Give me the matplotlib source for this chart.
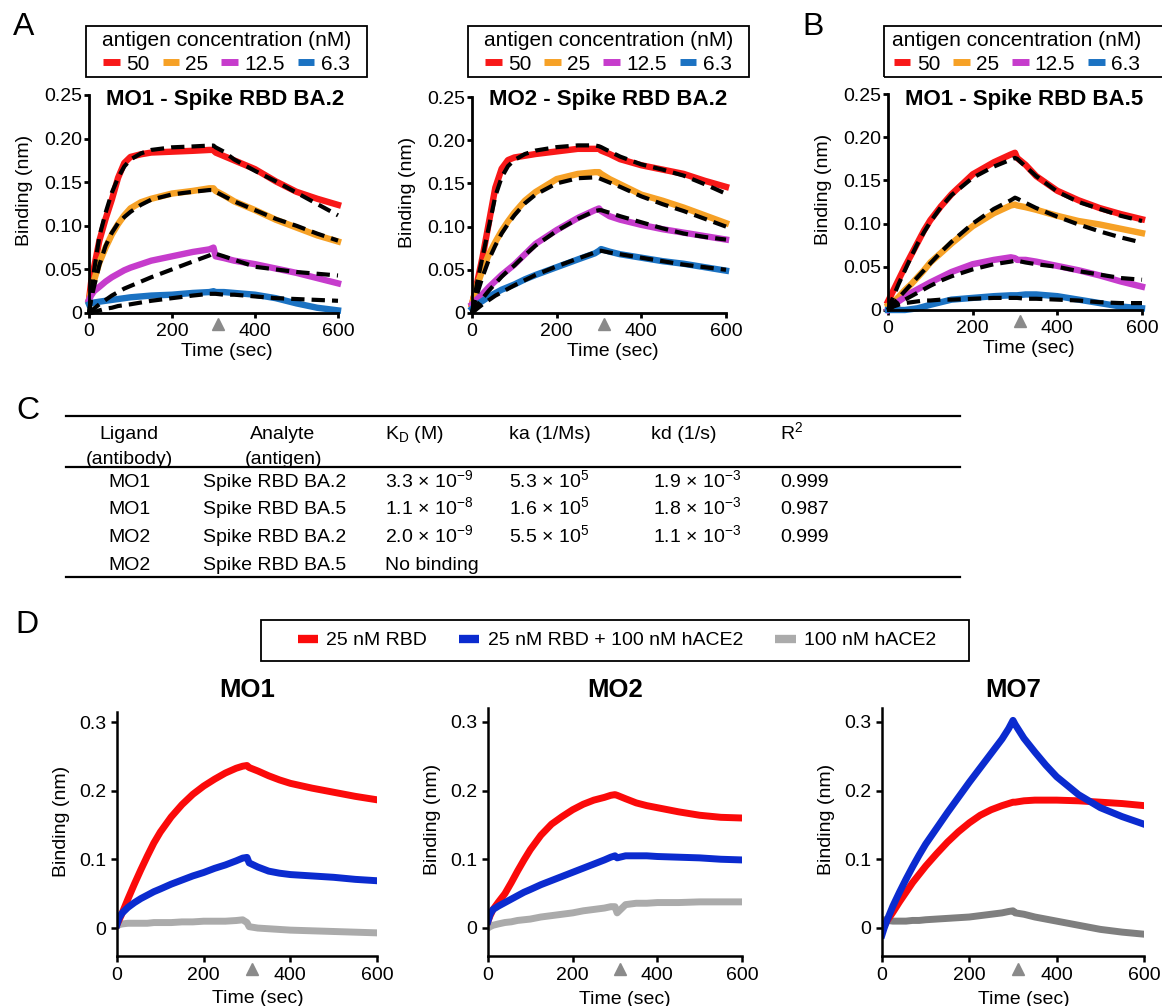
import matplotlib
matplotlib.use('Agg')
import matplotlib.pyplot as plt
from matplotlib.lines import Line2D
from matplotlib.patches import Rectangle
from matplotlib.transforms import blended_transform_factory, ScaledTranslation

plt.rcParams['font.family'] = ['Liberation Sans', 'DejaVu Sans']
plt.rcParams['mathtext.default'] = 'regular'

# ---------------- data ----------------
conc_labels = ['50', '25', '12.5', '6.3']
conc_colors = ['#f81818', '#f6a126', '#c63ccc', '#1b72c2']

t_A = [0, 5, 12, 25, 40, 55, 70, 85, 100, 125, 150, 200, 250, 290, 300, 305,
       325, 350, 400, 450, 500, 550, 600]

# Panel A left: MO1 - Spike RBD BA.2
a1_obs_50 = [0.015, 0.035, 0.052, 0.083, 0.108, 0.13, 0.155, 0.172, 0.179, 0.182, 0.184, 0.185, 0.186, 0.187, 0.187, 0.184, 0.18, 0.175, 0.165, 0.151, 0.139, 0.131, 0.124]
a1_fit_50 = [0.0, 0.02, 0.048, 0.088, 0.115, 0.138, 0.155, 0.168, 0.176, 0.183, 0.187, 0.19, 0.191, 0.192, 0.192, 0.19, 0.185, 0.176, 0.163, 0.151, 0.138, 0.125, 0.112]
a1_obs_25 = [0.015, 0.025, 0.037, 0.058, 0.075, 0.09, 0.102, 0.112, 0.12, 0.127, 0.131, 0.137, 0.14, 0.143, 0.143, 0.14, 0.135, 0.128, 0.118, 0.107, 0.098, 0.089, 0.082]
a1_fit_25 = [0.0, 0.015, 0.03, 0.055, 0.077, 0.092, 0.103, 0.11, 0.116, 0.124, 0.13, 0.136, 0.139, 0.141, 0.141, 0.139, 0.134, 0.128, 0.118, 0.108, 0.1, 0.091, 0.083]
a1_obs_12 = [0.015, 0.02, 0.025, 0.03, 0.036, 0.041, 0.045, 0.049, 0.052, 0.056, 0.06, 0.065, 0.07, 0.073, 0.075, 0.065, 0.063, 0.06, 0.056, 0.051, 0.046, 0.04, 0.034]
a1_fit_12 = [0.0, 0.002, 0.005, 0.01, 0.015, 0.02, 0.024, 0.028, 0.031, 0.036, 0.041, 0.05, 0.059, 0.066, 0.069, 0.068, 0.065, 0.061, 0.053, 0.05, 0.047, 0.045, 0.043]
a1_obs_6 = [0.01, 0.011, 0.012, 0.013, 0.014, 0.015, 0.016, 0.017, 0.018, 0.019, 0.02, 0.021, 0.023, 0.024, 0.025, 0.024, 0.024, 0.023, 0.021, 0.017, 0.011, 0.006, 0.003]
a1_fit_6 = [0.0, 0.0, 0.001, 0.003, 0.005, 0.006, 0.008, 0.009, 0.01, 0.012, 0.014, 0.017, 0.02, 0.022, 0.022, 0.022, 0.021, 0.021, 0.019, 0.017, 0.016, 0.015, 0.014]

# Panel A right: MO2 - Spike RBD BA.2
a2_obs_50 = [0.01, 0.02, 0.035, 0.065, 0.105, 0.145, 0.167, 0.177, 0.18, 0.182, 0.184, 0.187, 0.19, 0.19, 0.19, 0.188, 0.184, 0.178, 0.171, 0.166, 0.161, 0.153, 0.146]
a2_fit_50 = [0.0, 0.015, 0.035, 0.065, 0.1, 0.135, 0.157, 0.17, 0.177, 0.184, 0.188, 0.192, 0.194, 0.194, 0.193, 0.192, 0.187, 0.181, 0.172, 0.166, 0.159, 0.149, 0.138]
a2_obs_25 = [0.01, 0.02, 0.032, 0.05, 0.068, 0.082, 0.095, 0.106, 0.116, 0.13, 0.14, 0.155, 0.161, 0.163, 0.163, 0.161, 0.155, 0.149, 0.137, 0.13, 0.122, 0.113, 0.104]
a2_fit_25 = [0.0, 0.01, 0.022, 0.042, 0.062, 0.078, 0.092, 0.103, 0.113, 0.127, 0.137, 0.15, 0.156, 0.157, 0.156, 0.155, 0.151, 0.146, 0.135, 0.126, 0.118, 0.109, 0.1]
a2_obs_12 = [0.01, 0.012, 0.016, 0.022, 0.03, 0.037, 0.044, 0.05, 0.056, 0.068, 0.08, 0.096, 0.11, 0.119, 0.121, 0.118, 0.112, 0.108, 0.102, 0.097, 0.093, 0.089, 0.085]
a2_fit_12 = [0.0, 0.004, 0.009, 0.017, 0.026, 0.034, 0.042, 0.049, 0.055, 0.067, 0.078, 0.095, 0.109, 0.118, 0.119, 0.119, 0.116, 0.112, 0.105, 0.098, 0.092, 0.088, 0.085]
a2_obs_6 = [0.005, 0.007, 0.01, 0.014, 0.019, 0.023, 0.027, 0.03, 0.033, 0.039, 0.044, 0.053, 0.062, 0.069, 0.072, 0.074, 0.071, 0.068, 0.064, 0.06, 0.057, 0.053, 0.049]
a2_fit_6 = [0.0, 0.002, 0.005, 0.01, 0.015, 0.02, 0.024, 0.028, 0.032, 0.038, 0.044, 0.054, 0.063, 0.07, 0.072, 0.072, 0.07, 0.068, 0.064, 0.06, 0.056, 0.053, 0.05]

# Panel B: MO1 - Spike RBD BA.5
b_obs_50 = [0.01, 0.015, 0.022, 0.035, 0.05, 0.064, 0.078, 0.092, 0.104, 0.12, 0.134, 0.157, 0.171, 0.18, 0.182, 0.176, 0.168, 0.155, 0.138, 0.127, 0.118, 0.111, 0.105]
b_fit_50 = [0.0, 0.006, 0.015, 0.03, 0.046, 0.062, 0.077, 0.09, 0.102, 0.119, 0.133, 0.153, 0.166, 0.174, 0.176, 0.175, 0.166, 0.155, 0.137, 0.125, 0.117, 0.109, 0.103]
b_obs_25 = [0.005, 0.006, 0.009, 0.015, 0.023, 0.03, 0.038, 0.046, 0.055, 0.066, 0.077, 0.097, 0.112, 0.121, 0.122, 0.121, 0.119, 0.116, 0.109, 0.103, 0.099, 0.094, 0.089]
b_fit_25 = [0.0, 0.003, 0.007, 0.014, 0.022, 0.03, 0.038, 0.046, 0.054, 0.067, 0.079, 0.1, 0.117, 0.127, 0.13, 0.129, 0.124, 0.118, 0.108, 0.099, 0.091, 0.084, 0.078]
b_obs_12 = [0.0, 0.002, 0.005, 0.01, 0.015, 0.02, 0.024, 0.028, 0.032, 0.038, 0.044, 0.053, 0.058, 0.061, 0.06, 0.058, 0.058, 0.056, 0.051, 0.046, 0.04, 0.033, 0.027]
b_fit_12 = [0.0, 0.002, 0.004, 0.008, 0.012, 0.016, 0.02, 0.024, 0.028, 0.034, 0.039, 0.047, 0.053, 0.056, 0.057, 0.057, 0.055, 0.053, 0.05, 0.045, 0.041, 0.037, 0.035]
b_obs_6 = [0.0, 0.0, 0.0, 0.0, 0.0, 0.001, 0.002, 0.004, 0.006, 0.009, 0.012, 0.014, 0.016, 0.017, 0.017, 0.017, 0.018, 0.018, 0.016, 0.012, 0.008, 0.004, 0.002]
b_fit_6 = [0.0, 0.002, 0.004, 0.006, 0.008, 0.009, 0.01, 0.011, 0.011, 0.012, 0.012, 0.013, 0.014, 0.014, 0.014, 0.014, 0.013, 0.013, 0.012, 0.011, 0.009, 0.008, 0.008]

# Panel D
comp_labels = ['25 nM RBD', '25 nM RBD + 100 nM hACE2', '100 nM hACE2']
t_D = [0, 5, 12, 25, 40, 55, 70, 85, 100, 125, 150, 175, 200, 225, 250, 275,
       290, 300, 305, 325, 350, 375, 400, 450, 500, 550, 600]
d_mo1_rbd = [0.005, 0.012, 0.022, 0.042, 0.064, 0.085, 0.105, 0.124, 0.14, 0.162, 0.18, 0.195, 0.207, 0.217, 0.226, 0.233, 0.236, 0.237, 0.234, 0.229, 0.222, 0.216, 0.211, 0.204, 0.198, 0.192, 0.187]
d_mo1_mix = [0.005, 0.015, 0.022, 0.03, 0.037, 0.043, 0.048, 0.053, 0.057, 0.064, 0.07, 0.076, 0.081, 0.087, 0.092, 0.098, 0.102, 0.103, 0.095, 0.089, 0.083, 0.08, 0.078, 0.076, 0.074, 0.071, 0.069]
d_mo1_ace = [0.003, 0.005, 0.006, 0.007, 0.007, 0.007, 0.007, 0.008, 0.008, 0.008, 0.009, 0.009, 0.01, 0.01, 0.01, 0.011, 0.012, 0.008, 0.002, 0.0, -0.001, -0.002, -0.003, -0.004, -0.005, -0.006, -0.007]
d_mo2_rbd = [0.01, 0.018, 0.027, 0.038, 0.05, 0.066, 0.083, 0.099, 0.114, 0.135, 0.151, 0.162, 0.172, 0.18, 0.186, 0.19, 0.193, 0.194, 0.193, 0.188, 0.182, 0.178, 0.175, 0.169, 0.164, 0.161, 0.16]
d_mo2_mix = [0.01, 0.02, 0.027, 0.032, 0.037, 0.042, 0.047, 0.052, 0.056, 0.063, 0.069, 0.075, 0.081, 0.087, 0.093, 0.099, 0.103, 0.105, 0.102, 0.105, 0.105, 0.105, 0.104, 0.103, 0.102, 0.1, 0.099]
d_mo2_ace = [0.0, 0.002, 0.004, 0.006, 0.008, 0.009, 0.011, 0.012, 0.013, 0.016, 0.018, 0.02, 0.022, 0.025, 0.027, 0.029, 0.031, 0.031, 0.022, 0.034, 0.036, 0.036, 0.037, 0.037, 0.038, 0.038, 0.038]
d_mo7_rbd = [-0.005, 0.003, 0.011, 0.023, 0.038, 0.052, 0.066, 0.078, 0.09, 0.108, 0.125, 0.14, 0.153, 0.164, 0.172, 0.178, 0.181, 0.183, 0.183, 0.185, 0.186, 0.186, 0.186, 0.185, 0.183, 0.181, 0.178]
d_mo7_mix = [-0.01, 0.0, 0.012, 0.032, 0.052, 0.071, 0.089, 0.106, 0.122, 0.145, 0.168, 0.19, 0.212, 0.233, 0.254, 0.275, 0.29, 0.302, 0.296, 0.276, 0.256, 0.237, 0.22, 0.194, 0.175, 0.162, 0.151]
d_mo7_ace = [0.01, 0.012, 0.011, 0.01, 0.01, 0.01, 0.011, 0.011, 0.012, 0.013, 0.014, 0.015, 0.016, 0.018, 0.02, 0.022, 0.024, 0.025, 0.022, 0.02, 0.016, 0.013, 0.01, 0.004, -0.002, -0.006, -0.009]

x_ticks = [0, 200, 400, 600]
a_yticks = [0, 0.05, 0.10, 0.15, 0.20, 0.25]
a_yticklabels = ['0', '0.05', '0.10', '0.15', '0.20', '0.25']
d_yticks = [0, 0.1, 0.2, 0.3]
d_yticklabels = ['0', '0.1', '0.2', '0.3']
dissociation_mark = 312

# Table C
tbl_headers = ['Ligand\n(antibody)', 'Analyte\n(antigen)', 'K$_D$ (M)', 'ka (1/Ms)', 'kd (1/s)', 'R$^2$']
tbl_ligand = ['MO1', 'MO1', 'MO2', 'MO2']
tbl_analyte = ['Spike RBD BA.2', 'Spike RBD BA.5', 'Spike RBD BA.2', 'Spike RBD BA.5']
tbl_KD = ['3.3 × 10$^{-9}$', '1.1 × 10$^{-8}$', '2.0 × 10$^{-9}$', 'No binding']
tbl_ka = ['5.3 × 10$^{5}$', '1.6 × 10$^{5}$', '5.5 × 10$^{5}$', '']
tbl_kd = ['1.9 × 10$^{-3}$', '1.8 × 10$^{-3}$', '1.1 × 10$^{-3}$', '']
tbl_R2 = ['0.999', '0.987', '0.999', '']

# ---------------- figure ----------------
W, H = 1162, 1006
fig = plt.figure(figsize=(W / 100, H / 100), dpi=100)


def fx(px):
    return px / W


def fy(py):
    return 1 - py / H


def px_axes(x0, x1, ytop, ybot):
    return fig.add_axes([fx(x0), fy(ybot), (x1 - x0) / W, (ybot - ytop) / H])


def style(ax, lw, ticklen, xpad, ypad):
    for s in ['top', 'right']:
        ax.spines[s].set_visible(False)
    for s in ['left', 'bottom']:
        ax.spines[s].set_linewidth(lw)
    ax.tick_params(width=lw, length=ticklen, labelsize=14, direction='out')
    ax.tick_params(axis='x', pad=xpad)
    ax.tick_params(axis='y', pad=ypad)
    ax.set_xlim(0, 600)
    ax.set_xticks(x_ticks)


def mark(ax, off_pt):
    tr = blended_transform_factory(ax.transData, ax.transAxes) + \
        ScaledTranslation(0, -off_pt / 72, fig.dpi_scale_trans)
    ax.plot([dissociation_mark], [0], marker='^', color='#8a8a8a', ms=9,
            transform=tr, clip_on=False, ls='none')


# ----- Panels A & B -----
panelsAB = [
    ((89, 338, 95, 313), 'MO1 - Spike RBD BA.2',
     [a1_obs_50, a1_obs_25, a1_obs_12, a1_obs_6], [a1_fit_50, a1_fit_25, a1_fit_12, a1_fit_6]),
    ((472, 726, 97, 313), 'MO2 - Spike RBD BA.2',
     [a2_obs_50, a2_obs_25, a2_obs_12, a2_obs_6], [a2_fit_50, a2_fit_25, a2_fit_12, a2_fit_6]),
    ((888, 1142, 94, 310), 'MO1 - Spike RBD BA.5',
     [b_obs_50, b_obs_25, b_obs_12, b_obs_6], [b_fit_50, b_fit_25, b_fit_12, b_fit_6]),
]
legend_boxes = [(86, 367), (468, 749), (884, 1166)]

for (box, title, obs, fits), (lx0, lx1) in zip(panelsAB, legend_boxes):
    ax = px_axes(*box)
    style(ax, 2.0, 3.6, 3.5, 1.5)
    ax.set_ylim(0, 0.25)
    ax.set_yticks(a_yticks)
    ax.set_yticklabels(a_yticklabels)
    for ys, c in zip(obs, conc_colors):
        ax.plot(t_A, ys, color=c, lw=4.6, solid_joinstyle='round', clip_on=False, zorder=2)
    for ys in fits:
        ax.plot(t_A, ys, color='black', lw=3, dashes=(3.2, 1.7), clip_on=False, zorder=3)
    ax.text(0.067, fy(100), title, transform=blended_transform_factory(ax.transAxes, fig.transFigure),
            ha='left', va='center', fontsize=16, fontweight='bold')
    ax.set_ylabel('Binding (nm)', fontsize=14)
    ax.yaxis.set_label_coords(-56 / (box[1] - box[0]), 0.56)
    ax.set_xlabel('Time (sec)', fontsize=14)
    ax.xaxis.set_label_coords(0.555, -0.138)
    mark(ax, 8)
    # legend box
    fig.add_artist(Rectangle((fx(lx0), fy(77)), (lx1 - lx0) / W, 51 / H, transform=fig.transFigure,
                             fill=False, lw=1.3, ec='black'))
    cx = (lx0 + min(lx1, 1150)) / 2 if lx1 > W else (lx0 + lx1) / 2
    fig.text(fx(cx), fy(41), 'antigen concentration (nM)', ha='center', va='center', fontsize=15)
    handles = [Line2D([], [], color=c, lw=5, solid_capstyle='butt') for c in conc_colors]
    fig.legend(handles, conc_labels, loc='center', bbox_to_anchor=(fx(cx), fy(64)), ncol=4,
               frameon=False, fontsize=15, handlelength=0.8, handletextpad=0.3,
               columnspacing=0.62, borderpad=0, borderaxespad=0)

# ----- Panel D -----
comp_colors = ['#fb0a0a', '#0b2bcf']
panelsD = [
    ((117, 377, 712, 955.5), 0.315, 'MO1', [d_mo1_ace, d_mo1_rbd, d_mo1_mix], '#ababab'),
    ((488, 742, 708, 955.5), 0.32, 'MO2', [d_mo2_ace, d_mo2_rbd, d_mo2_mix], '#ababab'),
    ((882, 1144, 708, 955.5), 0.32, 'MO7', [d_mo7_ace, d_mo7_rbd, d_mo7_mix], '#7f7f7f'),
]
for box, ytop, title, (ace, rbd, mix), gcol in panelsD:
    ax = px_axes(*box)
    style(ax, 1.8, 4.5, 3.5, 3.5)
    ax.set_ylim(-0.04, ytop)
    ax.set_yticks(d_yticks)
    ax.set_yticklabels(d_yticklabels)
    ax.plot(t_D, ace, color=gcol, lw=5, zorder=2)
    ax.plot(t_D, rbd, color=comp_colors[0], lw=5, zorder=2.1)
    ax.plot(t_D, mix, color=comp_colors[1], lw=5, zorder=2.2)
    ax.text(0.5, fy(690), title, transform=blended_transform_factory(ax.transAxes, fig.transFigure),
            ha='center', va='center', fontsize=18.5, fontweight='bold')
    ax.set_ylabel('Binding (nm)', fontsize=14)
    ax.yaxis.set_label_coords(-47 / (box[1] - box[0]), 0.55)
    ax.set_xlabel('Time (sec)', fontsize=14)
    ax.xaxis.set_label_coords(0.54, -0.143)
    mark(ax, 10)

fig.add_artist(Rectangle((fx(261), fy(661)), 708 / W, 41 / H, transform=fig.transFigure,
                         fill=False, lw=1.3, ec='black'))
d_handles = [Line2D([], [], color=c, lw=6, solid_capstyle='butt')
             for c in comp_colors + ['#ababab']]
fig.legend(d_handles, comp_labels, loc='center', bbox_to_anchor=(fx(617), fy(640.5)), ncol=3,
           frameon=False, fontsize=14, handlelength=1.03, handletextpad=0.45,
           columnspacing=1.65, borderpad=0, borderaxespad=0)

# ----- Table C -----
def line(x0, x1, y, lw):
    fig.add_artist(Line2D([fx(x0), fx(x1)], [fy(y), fy(y)], lw=lw, color='black',
                          transform=fig.transFigure))


line(66, 960, 416, 1.6)
line(66, 960, 467, 1.6)
line(66, 960, 577, 1.6)

hdr_x = [129, 283, 385, 509, 651, 780]
hdr_ha = ['center', 'center', 'left', 'left', 'left', 'left']
for s, x, ha in zip(tbl_headers, hdr_x, hdr_ha):
    parts = s.split('\n')
    fig.text(fx(x), fy(439), parts[0], ha=ha, va='baseline', fontsize=14)
    if len(parts) > 1:
        fig.text(fx(x), fy(464), parts[1], ha=ha, va='baseline', fontsize=14)

row_base = [487, 514, 542, 570]
for i, yb in enumerate(row_base):
    fig.text(fx(129), fy(yb), tbl_ligand[i], ha='center', va='baseline', fontsize=14)
    fig.text(fx(203), fy(yb), tbl_analyte[i], ha='left', va='baseline', fontsize=14)
    fig.text(fx(385), fy(yb), tbl_KD[i], ha='left', va='baseline', fontsize=14)
    fig.text(fx(509), fy(yb), tbl_ka[i], ha='left', va='baseline', fontsize=14)
    fig.text(fx(653), fy(yb), tbl_kd[i], ha='left', va='baseline', fontsize=14)
    fig.text(fx(780), fy(yb), tbl_R2[i], ha='left', va='baseline', fontsize=14)

# ----- Panel letters -----
for letter, x, y in [('A', 13, 27), ('B', 802, 27), ('C', 16, 411), ('D', 15, 625)]:
    fig.text(fx(x), fy(y), letter, ha='left', va='center', fontsize=23)

fig.savefig('out.png', dpi=100)
